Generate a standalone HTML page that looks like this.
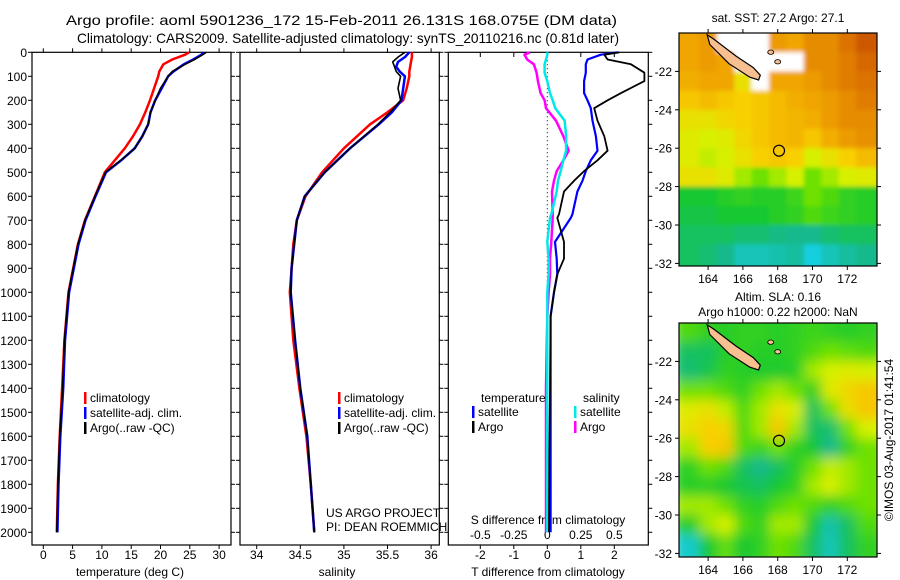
<!DOCTYPE html>
<html><head><meta charset="utf-8"><style>
html,body{margin:0;padding:0;background:#fff;}
svg{display:block;font-family:"Liberation Sans",sans-serif;}
</style></head><body>
<svg id="chart" width="900" height="580" viewBox="0 0 900 580" xmlns="http://www.w3.org/2000/svg">
<defs>
<filter id="blur1" filterUnits="userSpaceOnUse" x="670" y="20" width="220" height="260"><feGaussianBlur stdDeviation="2" edgeMode="duplicate"/></filter>
<filter id="blur2" filterUnits="userSpaceOnUse" x="670" y="310" width="220" height="260"><feGaussianBlur stdDeviation="6" edgeMode="duplicate"/></filter>
<clipPath id="clipMap1"><rect x="679" y="33" width="198" height="233"/></clipPath>
<clipPath id="clipMap2"><rect x="679" y="323" width="198" height="234"/></clipPath>
</defs>
<text x="66" y="25" font-size="14" textLength="551" lengthAdjust="spacingAndGlyphs">Argo profile: aoml 5901236_172 15-Feb-2011 26.131S 168.075E (DM data)</text>
<text x="77" y="43" font-size="14" textLength="542" lengthAdjust="spacingAndGlyphs">Climatology: CARS2009. Satellite-adjusted climatology: synTS_20110216.nc (0.81d later)</text>
<g id="layer"></g>
</svg>
<script>
// ---------- data ----------
const depthT = [0,10,30,50,80,100,150,200,250,300,350,400,450,500,600,700,800,900,1000,1200,1400,1600,1800,2000];
const tempClim = [24.9,24.2,22.0,20.5,19.8,19.6,18.9,18.2,17.4,16.5,15.3,13.9,12.2,10.5,8.8,7.1,5.9,5.1,4.3,3.6,3.2,2.8,2.5,2.3];
const tempSat  = [27.3,27.0,25.6,24.0,22.2,21.3,20.2,19.1,18.3,17.9,16.9,15.6,13.3,10.7,8.9,7.2,6.0,5.2,4.4,3.7,3.4,2.9,2.6,2.4];
const tempArgo = [27.8,27.2,25.8,24.2,22.0,21.3,20.0,19.1,18.3,17.9,16.9,15.6,13.2,10.6,8.8,7.1,5.9,5.1,4.3,3.6,3.3,2.8,2.5,2.3];

const depthS = [0,20,40,60,80,100,150,200,250,300,400,500,600,700,800,900,1000,1200,1400,1600,1800,2000];
const salClim = [35.78,35.78,35.77,35.76,35.75,35.75,35.72,35.68,35.50,35.30,35.00,34.75,34.56,34.46,34.42,34.40,34.38,34.42,34.49,34.57,34.62,34.66];
const salSat  = [35.75,35.70,35.62,35.60,35.64,35.70,35.68,35.66,35.55,35.40,35.07,34.78,34.55,34.46,34.43,34.40,34.39,34.44,34.50,34.58,34.62,34.66];
const salArgo = [35.70,35.62,35.56,35.58,35.60,35.65,35.62,35.65,35.53,35.39,35.07,34.78,34.55,34.46,34.43,34.40,34.39,34.44,34.50,34.58,34.62,34.66];

const depthD = [0,10,30,50,85,120,170,200,233,285,350,410,450,495,535,580,675,690,790,860,925,1000,1100,1400,1700,2000];
const dTsat  = [2.1,1.6,1.2,1.15,1.15,1.1,1.1,1.2,1.3,1.35,1.45,1.5,1.3,1.15,1.05,0.9,0.75,0.7,0.23,0.28,0.3,0.2,0.1,0.1,0.1,0.1];
const dTargo = [2.15,1.7,1.8,2.5,2.9,2.9,2.2,1.8,1.4,1.5,1.7,1.8,1.5,1.1,0.8,0.5,0.35,0.3,0.5,0.5,0.3,0.2,0.1,0.08,0.06,0.05];
const dSsat  = [0.0,0.0,-0.01,-0.02,-0.02,0.0,0.02,0.04,0.06,0.13,0.14,0.14,0.12,0.1,0.08,0.07,0.03,0.02,0.0,0.01,0.01,0.0,0.0,0.0,0.0,0.0];
const dSargo = [-0.13,-0.17,-0.15,-0.1,-0.08,-0.07,-0.05,-0.02,-0.01,0.065,0.12,0.16,0.12,0.07,0.05,0.035,0.04,0.04,0.03,0.02,0.02,0.01,0.0,-0.01,-0.01,-0.01];

const depthTicks = [0,100,200,300,400,500,600,700,800,900,1000,1100,1200,1300,1400,1500,1600,1700,1800,1900,2000];
const tempTicks = [0,5,10,15,20,25,30];
const salTicks = [34,34.5,35,35.5,36];
const salTickLabels = ["34","34.5","35","35.5","36"];
const dTTicks = [-2,-1,0,1,2];
const dSTicks = [-0.5,-0.25,0,0.25,0.5];
const lonTicks = [164,166,168,170,172];
const latTicks = [-22,-24,-26,-28,-30,-32];
const argoLon = 168.075, argoLat = -26.131;

// SST field (rows -20.5..-31.5, cols 163..173), -1 = no data
const sstRows = [
 [.80,.82,-1,-1,-1,.82,.80,.85,.85,.90,.95],
 [.80,.82,.80,-1,-1,-1,-1,.85,.85,.88,.92],
 [.78,.80,.80,.65,-1,.80,.80,.82,.85,.88,.90],
 [.72,.75,.72,.70,.72,.75,.78,.80,.82,.85,.88],
 [.65,.65,.68,.70,.72,.75,.76,.78,.82,.85,.85],
 [.62,.60,.62,.68,.72,.75,.76,.72,.78,.82,.84],
 [.62,.58,.60,.65,.70,.72,.70,.60,.65,.70,.75],
 [.65,.65,.62,.55,.50,.55,.60,.50,.55,.60,.62],
 [.35,.35,.38,.40,.38,.38,.42,.50,.45,.40,.38],
 [.33,.33,.35,.35,.35,.38,.40,.45,.42,.40,.38],
 [.30,.30,.30,.28,.28,.26,.25,.25,.28,.30,.30],
 [.30,.28,.25,.18,.18,.20,.22,.12,.18,.22,.25]
];
const slaRows = [
 [.45,.40,.38,.40,.40,.38,.40,.42,.40,.38,.40],
 [.30,.30,.38,.40,.38,.38,.40,.45,.50,.48,.45],
 [.28,.32,.40,.38,.36,.36,.38,.55,.60,.62,.60],
 [.50,.50,.45,.40,.50,.55,.50,.40,.62,.68,.72],
 [.62,.65,.58,.45,.55,.65,.60,.30,.50,.65,.72],
 [.65,.70,.68,.45,.55,.72,.55,.30,.28,.50,.60],
 [.55,.70,.72,.45,.42,.50,.40,.35,.25,.40,.50],
 [.40,.50,.45,.30,.25,.30,.38,.50,.58,.55,.50],
 [.38,.38,.35,.32,.30,.35,.40,.55,.60,.55,.50],
 [.55,.55,.50,.40,.38,.45,.50,.45,.40,.45,.50],
 [.38,.55,.60,.45,.40,.55,.55,.35,.20,.30,.45],
 [.15,.35,.48,.35,.40,.50,.45,.30,.18,.30,.40]
];

// ---------- helpers ----------
const NS = "http://www.w3.org/2000/svg";
const layer = document.getElementById('layer');
function mk(tag, attrs, parent){
  const e = document.createElementNS(NS, tag);
  for (const k in attrs) e.setAttribute(k, attrs[k]);
  (parent||layer).appendChild(e);
  return e;
}
const yDepth = d => 52.3 + d*0.24;
const xTemp = t => 43.3 + t*5.86;
const xSal = s => 256.7 + (s-34)*87.2;
const xDT = v => 547.3 + v*33.5;
const xDS = v => 547.3 + v*134;
const xLon = lon => 682 + (lon-162.5)*17.4;
const yLat1 = lat => 33 + (-20-lat)*19.2;
const yLat2 = lat => 323 + (-20-lat)*19.2;

function line(xs, ys, color, w, name){
  const pts = xs.map((x,i)=>x.toFixed(1)+','+ys[i].toFixed(1)).join(' ');
  const p = mk('polyline',{points:pts,fill:'none',stroke:color,'stroke-width':w,'stroke-linejoin':'round'});
  
  
  return p;
}
function text(x,y,str,size,anchor,name){
  const t = mk('text',{x:x,y:y,'font-size':size,'text-anchor':anchor||'start'});
  t.textContent = str;
  
  
  return t;
}
function frame(x0,x1,y0,y1,name){
  const r = mk('rect',{x:x0,y:y0,width:x1-x0,height:y1-y0,fill:'none',stroke:'#000','stroke-width':1.2});
  
  
}
function tick(x1,y1,x2,y2){ mk('line',{x1:x1,y1:y1,x2:x2,y2:y2,stroke:'#000','stroke-width':1}); }

// ---------- profile panels ----------
const panels = [[32,231,'temperature-panel'],[240,439.3,'salinity-panel'],[448.3,648.3,'difference-panel']];
const Ybot = 545;
panels.forEach(p=>{
  frame(p[0],p[1],52.3,Ybot,p[2]+'-frame');
  depthTicks.forEach(d=>{ tick(p[0]-4,yDepth(d),p[0],yDepth(d)); tick(p[1],yDepth(d),p[1]+4,yDepth(d)); });
});
depthTicks.forEach(d=>{ text(27,yDepth(d)+4.5,String(d),12,'end','depth-tick-label'); });

tempTicks.forEach(t=>{ tick(xTemp(t),Ybot,xTemp(t),Ybot+4); tick(xTemp(t),52.3,xTemp(t),48.3); text(xTemp(t),559,String(t),12,'middle','temp-tick-label'); });
text(130,576,'temperature (deg C)',12,'middle','temperature-axis-title');
salTicks.forEach((s,i)=>{ tick(xSal(s),Ybot,xSal(s),Ybot+4); tick(xSal(s),52.3,xSal(s),48.3); text(xSal(s),559,salTickLabels[i],12,'middle','salinity-tick-label'); });
text(337,576,'salinity',12,'middle','salinity-axis-title');
dTTicks.forEach(t=>{ tick(xDT(t),Ybot,xDT(t),Ybot+4); tick(xDT(t),52.3,xDT(t),57); text(xDT(t),559,String(t),12,'middle','dt-tick-label'); });
text(548,576,'T difference from climatology',12,'middle','dt-axis-title');
dSTicks.forEach(s=>{ text(xDS(s),539,String(s),12,'middle','ds-tick-label'); });
text(548,524,'S difference from climatology',12,'middle','ds-axis-title');

const zl = mk('line',{x1:547.3,y1:52.3,x2:547.3,y2:515,stroke:'#000','stroke-width':1,'stroke-dasharray':'1 3'});



const yT = depthT.map(yDepth);
line(tempClim.map(xTemp), yT, '#ff0000', 2.5, 'temp-climatology-line');
line(tempSat.map(xTemp), yT, '#0000ff', 2.5, 'temp-satellite-line');
line(tempArgo.map(xTemp), yT, '#000000', 1.6, 'temp-argo-line');
const yS = depthS.map(yDepth);
line(salClim.map(xSal), yS, '#ff0000', 2.5, 'sal-climatology-line');
line(salSat.map(xSal), yS, '#0000ff', 2.5, 'sal-satellite-line');
line(salArgo.map(xSal), yS, '#000000', 1.6, 'sal-argo-line');
const yD = depthD.map(yDepth);
line(dSargo.map(xDS), yD, '#ff00ff', 2.5, 'ds-argo-line');
line(dSsat.map(xDS), yD, '#00e8e8', 2.5, 'ds-satellite-line');
line(dTsat.map(xDT), yD, '#0000ff', 2.2, 'dt-satellite-line');
line(dTargo.map(xDT), yD, '#000000', 1.8, 'dt-argo-line');

function legEntry(bx,y,color,label,name){
  const r = mk('rect',{x:bx,y:y-10,width:2.5,height:12,fill:color});
  
  
  text(bx+6,y,label,12,'start',name);
}
[[84,'temp'],[338,'sal']].forEach(L=>{
  legEntry(L[0],402,'#ff0000','climatology',L[1]+'-legend-climatology');
  legEntry(L[0],417,'#0000ff','satellite-adj. clim.',L[1]+'-legend-satellite');
  legEntry(L[0],432,'#000000','Argo(..raw -QC)',L[1]+'-legend-argo');
});
text(481,402,'temperature',12,'start','legend-temperature-header');
text(583,402,'salinity',12,'start','legend-salinity-header');
legEntry(472,416,'#0000ff','satellite','dt-legend-satellite');
legEntry(472,431,'#000000','Argo','dt-legend-argo');
legEntry(574,416,'#00e8e8','satellite','ds-legend-satellite');
legEntry(574,431,'#ff00ff','Argo','ds-legend-argo');
text(326,517,'US ARGO PROJECT',12,'start','project-credit');
text(326,531,'PI: DEAN ROEMMICH',12,'start','pi-credit');

// ---------- maps ----------
function cmap(v){
  const stops=[[0.10,[20,210,235]],[0.25,[20,185,140]],[0.35,[20,200,50]],[0.50,[110,225,0]],[0.60,[215,240,0]],[0.70,[248,208,0]],[0.80,[240,165,0]],[0.90,[220,115,0]],[1.0,[190,60,0]]];
  if(v<=stops[0][0]) return 'rgb('+stops[0][1].join(',')+')';
  for(let i=1;i<stops.length;i++){
    if(v<=stops[i][0]){
      const a=stops[i-1],b=stops[i],f=(v-a[0])/(b[0]-a[0]);
      return 'rgb('+a[1].map((c,k)=>Math.round(c+(b[1][k]-c)*f)).join(',')+')';
    }
  }
  return 'rgb(190,60,0)';
}
function drawField(rows, yLat, clipId, filt, name){
  const g = mk('g',{'clip-path':'url(#'+clipId+')'});
  const inner = mk('g',{filter:'url(#'+filt+')'}, g);
  
  
  rows.forEach((row,r)=>{
    row.forEach((v,c)=>{
      const lon0 = 162.5 + c - (c===0?0.5:0), lon1 = 163.5 + c + (c===10?0.7:0);
      const lat0 = -20 - r + (r===0?0.7:0), lat1 = -21 - r - (r===11?0.7:0);
      const x0 = xLon(lon0), x1 = xLon(lon1), y0 = yLat(lat0), y1 = yLat(lat1);
      const cell = mk('rect',{x:x0.toFixed(1),y:y0.toFixed(1),width:(x1-x0+0.5).toFixed(1),height:(y1-y0+0.5).toFixed(1),fill: v<0?'#ffffff':cmap(v)}, inner);
      
      
    });
  });
  return g;
}
function island(yLat, g){
  const isl = [[163.95,-20.1],[164.3,-20.3],[165.6,-21.2],[166.6,-21.8],[167.0,-22.2],[166.9,-22.45],[166.4,-22.3],[165.2,-21.6],[164.1,-20.6]];
  const pts = isl.map(p=>xLon(p[0]).toFixed(1)+','+yLat(p[1]).toFixed(1)).join(' ');
  const p = mk('polygon',{points:pts,fill:'#f8c090',stroke:'#000','stroke-width':1.2}, g);
  
  
  [[167.6,-21.0],[168.0,-21.5]].forEach(c=>{
    const s = mk('ellipse',{cx:xLon(c[0]),cy:yLat(c[1]),rx:3,ry:2.2,fill:'#f8c090',stroke:'#000','stroke-width':0.8}, g);
    
    
  });
}
function mapAxes(yLat, top, bottom, name){
  frame(679,877,top,bottom,name+'-frame');
  lonTicks.forEach(l=>{ tick(xLon(l),bottom,xLon(l),bottom+4); tick(xLon(l),top,xLon(l),top-4); text(xLon(l),bottom+17,String(l),12,'middle',name+'-lon-label'); });
  latTicks.forEach(l=>{ tick(675,yLat(l),679,yLat(l)); tick(877,yLat(l),881,yLat(l)); text(672,yLat(l)+4.5,String(l),12,'end',name+'-lat-label'); });
  const c = mk('circle',{cx:xLon(argoLon),cy:yLat(argoLat),r:5.5,fill:'none',stroke:'#000','stroke-width':1.2});
  
  
}
const g1 = drawField(sstRows, yLat1, 'clipMap1', 'blur1', 'sst-map');
island(yLat1, g1);
mapAxes(yLat1, 33, 266, 'sst-map');
text(778,22,'sat. SST: 27.2 Argo: 27.1',12,'middle','sst-map-title');

const g2 = drawField(slaRows, yLat2, 'clipMap2', 'blur2', 'sla-map');
island(yLat2, g2);
mapAxes(yLat2, 323, 557, 'sla-map');
text(778,301,'Altim. SLA: 0.16',12,'middle','sla-map-title');
text(778,316,'Argo h1000: 0.22 h2000: NaN',12,'middle','sla-map-subtitle');

const stamp = text(0,0,'©IMOS 03-Aug-2017 01:41:54',12,'middle','timestamp');
stamp.setAttribute('transform','translate(893,440) rotate(-90)');
</script>
</body></html>
